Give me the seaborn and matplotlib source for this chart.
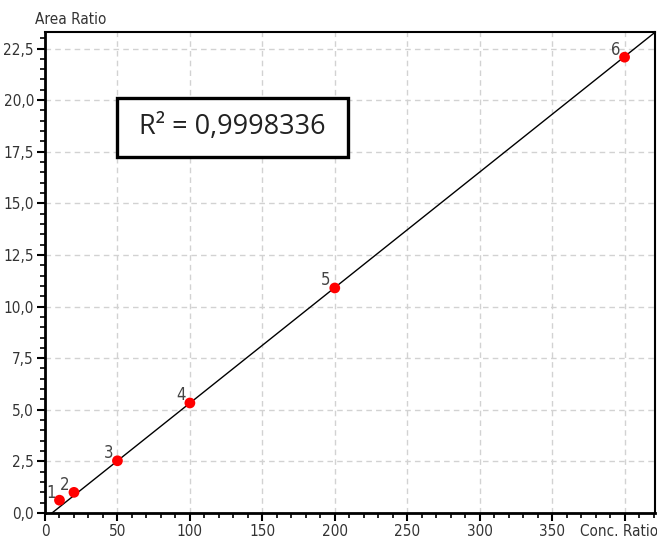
import numpy as np
import pandas as pd
import matplotlib
matplotlib.use("Agg")
import matplotlib.pyplot as plt
import matplotlib.transforms as mtransforms
from matplotlib.patches import Rectangle
import seaborn as sns
from matplotlib.ticker import MultipleLocator, FixedLocator

# ---- data ----
conc_ratio = [10, 20, 50, 100, 200, 400]
area_ratio = [0.62, 1.0, 2.53, 5.33, 10.9, 22.08]
point_labels = ["1", "2", "3", "4", "5", "6"]
fit_slope = 0.05595
fit_intercept = -0.27
fit_x = [0, 425]
r2_text = "R² = 0,9998336"
x_ticks = [0, 50, 100, 150, 200, 250, 300, 350, 400]
x_tick_labels = ["0", "50", "100", "150", "200", "250", "300", "350", "Conc. Ratio"]
y_ticks = [0, 2.5, 5, 7.5, 10, 12.5, 15, 17.5, 20, 22.5]
y_tick_labels = ["0,0", "2,5", "5,0", "7,5", "10,0", "12,5", "15,0", "17,5", "20,0", "22,5"]
y_axis_title = "Area Ratio"

sns.set_style("white")
plt.rcParams['font.family'] = ['DejaVu Sans']
plt.rcParams['font.stretch'] = 'condensed'

df = pd.DataFrame({"x": conc_ratio, "y": area_ratio})
fit_df = pd.DataFrame({"x": fit_x, "y": [fit_slope * v + fit_intercept for v in fit_x]})

fig = plt.figure(figsize=(6.57, 5.39), dpi=100)
ax = fig.add_axes([45 / 657, 26 / 539, 610 / 657, 481 / 539])

sns.lineplot(data=fit_df, x="x", y="y", ax=ax, color="black", linewidth=1.0, zorder=3)
sns.scatterplot(data=df, x="x", y="y", ax=ax, color="#ff0000", s=60, edgecolor="none", zorder=4)

for xv, yv, lab in zip(conc_ratio, area_ratio, point_labels):
    ax.annotate(lab, (xv, yv), xytext=(-3, -1), textcoords="offset points",
                ha="right", va="bottom", fontsize=12, color="#444444",
                fontstretch="condensed")

ax.set_xlim(0, 421)
ax.set_ylim(0, 23.3)
ax.xaxis.set_major_locator(FixedLocator(x_ticks))
ax.set_xticklabels(x_tick_labels, fontstretch="condensed")
ax.yaxis.set_major_locator(FixedLocator(y_ticks))
ax.set_yticklabels(y_tick_labels, fontstretch="condensed")
ax.xaxis.set_minor_locator(MultipleLocator(10))
ax.yaxis.set_minor_locator(MultipleLocator(0.5))
ax.tick_params(axis="both", which="major", direction="out", length=6, width=1.5,
               labelsize=11, labelcolor="#333333", color="black", pad=2)
ax.tick_params(axis="both", which="minor", direction="out", length=3.5, width=1.2, color="black")
ax.tick_params(axis="x", which="both", bottom=True, top=False)
ax.tick_params(axis="y", which="both", left=True, right=False)

# shift the last x tick label ("Conc. Ratio") slightly left so it stays inside the figure
last_lab = ax.get_xticklabels()[-1]
last_lab.set_transform(last_lab.get_transform() +
                       mtransforms.ScaledTranslation(-6 / 100, 0, fig.dpi_scale_trans))

ax.grid(True, which="major", linestyle=(0, (4, 3)), color="#d2d2d2", linewidth=1.0)
ax.set_axisbelow(True)

for side in ["left", "bottom"]:
    ax.spines[side].set_linewidth(2.0)
    ax.spines[side].set_color("black")
for side in ["top", "right"]:
    ax.spines[side].set_linewidth(1.5)
    ax.spines[side].set_color("black")

ax.set_xlabel("")
ax.set_ylabel("")
fig.text(35 / 657, 1 - 20 / 539, y_axis_title, fontsize=11, color="#333333",
         ha="left", va="center", fontstretch="condensed")

ax.add_patch(Rectangle((0.118, 0.740), 0.3787, 0.1227, transform=ax.transAxes,
                       facecolor="white", edgecolor="black", linewidth=2.4, zorder=5))
ax.text(0.307, 0.803, r2_text, transform=ax.transAxes, fontsize=19.5,
        family=["Open Sans", "DejaVu Sans"], fontstretch="normal", color="#222222",
        ha="center", va="center", zorder=6)

fig.savefig("out.png", dpi=100)
